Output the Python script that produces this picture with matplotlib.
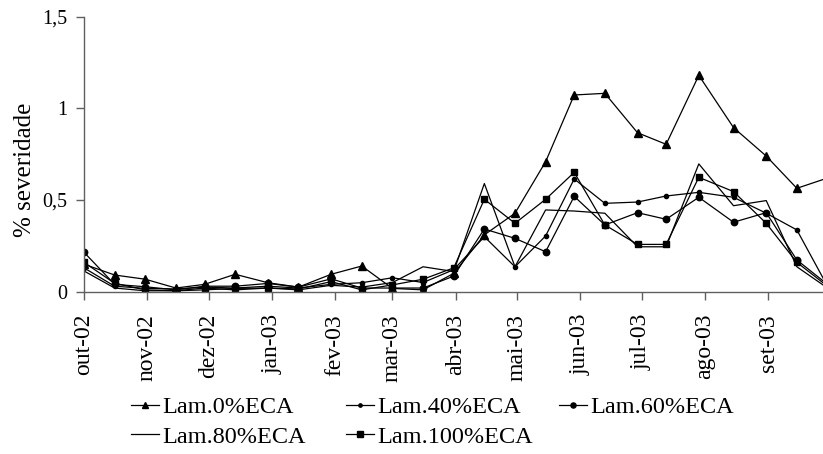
import datetime as dt
import matplotlib
matplotlib.use("Agg")
import matplotlib.pyplot as plt
import matplotlib.dates as mdates

plt.rcParams['font.family'] = ['Liberation Serif', 'DejaVu Serif']

# ---- data ----
dates = ["2002-10-01", "2002-10-16", "2002-10-31", "2002-11-15", "2002-11-29",
         "2002-12-14", "2002-12-30", "2003-01-14", "2003-01-30", "2003-02-14",
         "2003-03-01", "2003-03-16", "2003-03-31", "2003-04-15", "2003-04-30",
         "2003-05-15", "2003-05-29", "2003-06-13", "2003-06-29", "2003-07-13",
         "2003-07-29", "2003-08-15", "2003-08-31", "2003-09-15", "2003-09-30"]

lam0 = [0.15, 0.091, 0.068, 0.020, 0.040, 0.095, 0.049, 0.025, 0.095, 0.140,
        0.018, 0.010, 0.100, 0.310, 0.428, 0.709, 1.073, 1.082, 0.867, 0.804,
        1.180, 0.895, 0.740, 0.564, 0.620]
lam40 = [0.13, 0.030, 0.018, 0.015, 0.025, 0.020, 0.030, 0.020, 0.040, 0.049,
         0.076, 0.050, 0.120, 0.300, 0.136, 0.304, 0.615, 0.482, 0.489, 0.522,
         0.542, 0.515, 0.428, 0.337, 0.030]
lam60 = [0.215, 0.040, 0.027, 0.010, 0.030, 0.030, 0.045, 0.025, 0.070, 0.020,
         0.020, 0.020, 0.085, 0.342, 0.291, 0.218, 0.520, 0.364, 0.431, 0.395,
         0.515, 0.379, 0.431, 0.173, 0.040]
lam80 = [0.113, 0.020, 0.005, 0.005, 0.020, 0.010, 0.020, 0.010, 0.035, 0.025,
         0.050, 0.136, 0.110, 0.590, 0.136, 0.446, 0.440, 0.428, 0.245, 0.245,
         0.697, 0.469, 0.497, 0.136, 0.020]
lam100 = [0.160, 0.046, 0.010, 0.005, 0.010, 0.018, 0.020, 0.015, 0.055, 0.010,
          0.037, 0.068, 0.130, 0.504, 0.373, 0.504, 0.651, 0.364, 0.258, 0.258,
          0.624, 0.546, 0.373, 0.160, 0.030]

labels = ["Lam.0%ECA", "Lam.40%ECA", "Lam.60%ECA", "Lam.80%ECA", "Lam.100%ECA"]
month_ticks = ["2002-10-01", "2002-11-01", "2002-12-01", "2003-01-01", "2003-02-01",
               "2003-03-01", "2003-04-01", "2003-05-01", "2003-06-01", "2003-07-01",
               "2003-08-01", "2003-09-01"]
month_labels = ["out-02", "nov-02", "dez-02", "jan-03", "fev-03", "mar-03",
                "abr-03", "mai-03", "jun-03", "jul-03", "ago-03", "set-03"]
yticks = [0, 0.5, 1, 1.5]
ytick_labels = ["0", "0,5", "1", "1,5"]

# ---- figure ----
W, H = 823, 454
fig = plt.figure(figsize=(W / 100, H / 100), dpi=100)
ax = fig.add_axes([84 / W, 1 - 291.7 / H, (W - 84) / W, 275 / H])

x = [mdates.date2num(dt.datetime.strptime(d, "%Y-%m-%d")) for d in dates]

series = [lam0, lam40, lam60, lam80, lam100]
markers = ['^', 'o', 'o', None, 's']
msizes = [6.0, 3.0, 4.6, 0, 4.6]
handles = []
for vals, m, ms, lab in zip(series, markers, msizes, labels):
    h, = ax.plot(x, vals, color='black', lw=0.9, marker=m, markersize=ms,
                 markerfacecolor='black', markeredgecolor='black', label=lab)
    handles.append(h)

x0 = mdates.date2num(dt.datetime(2002, 10, 1))
ax.set_xlim(x0, x0 + 361.8)
ax.set_ylim(0, 1.5)

ax.set_xticks([mdates.date2num(dt.datetime.strptime(d, "%Y-%m-%d")) for d in month_ticks])
ax.set_xticklabels(month_labels, rotation=90, fontsize=17)
ax.set_yticks(yticks)
ax.set_yticklabels(ytick_labels, fontsize=14.5)

for s in ['top', 'right']:
    ax.spines[s].set_visible(False)
for s in ['left', 'bottom']:
    ax.spines[s].set_color('#606060')
    ax.spines[s].set_linewidth(1.0)
ax.tick_params(axis='x', direction='out', length=6, width=1, color='#606060', pad=10)
ax.tick_params(axis='y', direction='out', length=6, width=1, color='#606060', pad=6)
ax.patch.set_visible(False)

fig.text(25 / W, 1 - 170 / H, "% severidade", rotation=90, ha='center', va='center',
         fontsize=18)

# legend: three columns placed explicitly (row-major as in the reference)
cols = [[0, 3], [1, 4], [2]]
col_x = [131, 346, 559]
for cx, idx in zip(col_x, cols):
    fig.legend([handles[i] for i in idx], [labels[i] for i in idx],
               loc='upper left', bbox_to_anchor=(cx / W, 1 - 396 / H),
               frameon=False, fontsize=17.5, handlelength=1.15, handletextpad=0.15,
               labelspacing=0.32, borderpad=0, borderaxespad=0, markerscale=0.8)

fig.savefig("out.png", dpi=100)
